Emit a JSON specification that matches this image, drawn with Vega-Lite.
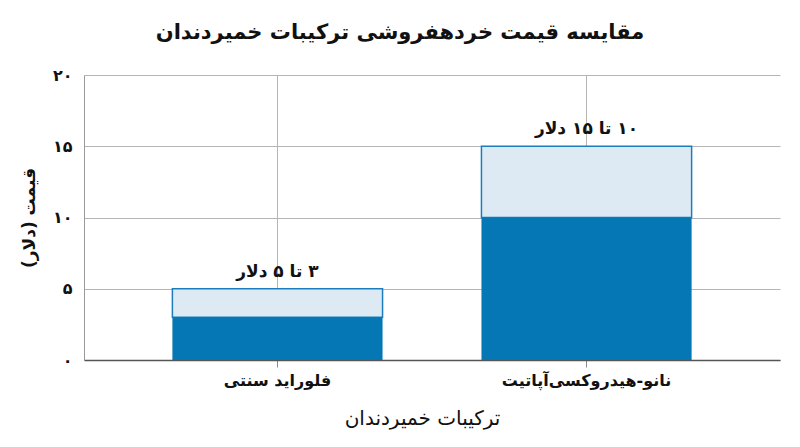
{
  "$schema": "https://vega.github.io/schema/vega-lite/v6.json",
  "width": 696,
  "height": 285,
  "autosize": {"type": "none"},
  "padding": {"left": 84, "top": 75, "right": 20, "bottom": 87},
  "background": "white",
  "title": {
    "text": "مقایسه قیمت خردهفروشی ترکیبات خمیردندان",
    "font": "DejaVu Sans",
    "fontSize": 21,
    "fontWeight": "bold",
    "color": "#111111",
    "anchor": "middle",
    "dx": -32,
    "offset": 24
  },
  "data": {
    "values": [
      {"ingredient": "فلوراید سنتی", "low": 3, "high": 5, "label": "\u200f۳ تا ۵ دلار"},
      {"ingredient": "نانو-هیدروکسی‌آپاتیت", "low": 10, "high": 15, "label": "\u200f۱۰ تا ۱۵ دلار"}
    ]
  },
  "encoding": {
    "x": {
      "field": "ingredient",
      "type": "nominal",
      "sort": null,
      "title": "ترکیبات خمیردندان",
      "scale": {"paddingInner": 0.32, "paddingOuter": 0.286},
      "axis": {
        "labelAngle": 0,
        "grid": true,
        "gridColor": "#b5b5b5",
        "domainColor": "#555555",
        "domainWidth": 1.5,
        "tickColor": "#888888",
        "tickSize": 7,
        "labelPadding": 5,
        "labelFont": "DejaVu Sans",
        "labelFontSize": 16,
        "labelFontWeight": "bold",
        "labelColor": "#111111",
        "titleFont": "DejaVu Sans",
        "titleFontSize": 20,
        "titleFontWeight": "normal",
        "titleColor": "#111111",
        "titleX": 338,
        "titleY": 58,
        "titleBaseline": "middle"
      }
    }
  },
  "layer": [
    {
      "mark": {"type": "bar", "color": "#ddeaf4", "stroke": "#1b7dbd", "strokeWidth": 1.5},
      "encoding": {
        "y": {
          "field": "low",
          "type": "quantitative",
          "title": "\u200fقیمت (دلار)",
          "scale": {"domain": [0, 20]},
          "axis": {
            "values": [0, 5, 10, 15, 20],
            "labelExpr": "datum.value == 0 ? '۰' : datum.value == 5 ? '۵' : datum.value == 10 ? '۱۰' : datum.value == 15 ? '۱۵' : '۲۰'",
            "ticks": false,
            "labelPadding": 12,
            "gridColor": "#b5b5b5",
            "domainColor": "#999999",
            "labelFont": "DejaVu Sans",
            "labelFontSize": 16,
            "labelFontWeight": "bold",
            "labelColor": "#111111",
            "titleFont": "DejaVu Sans",
            "titleFontSize": 17,
            "titleFontWeight": "bold",
            "titleColor": "#111111",
            "titlePadding": 14
          }
        },
        "y2": {"field": "high"}
      }
    },
    {
      "mark": {"type": "bar", "color": "#0677b5"},
      "encoding": {
        "y": {"field": "low", "type": "quantitative"}
      }
    },
    {
      "mark": {
        "type": "text",
        "baseline": "bottom",
        "dy": -8,
        "font": "DejaVu Sans",
        "fontSize": 17,
        "fontWeight": "bold",
        "color": "#111111"
      },
      "encoding": {
        "y": {"field": "high", "type": "quantitative"},
        "text": {"field": "label"}
      }
    }
  ],
  "config": {
    "view": {"stroke": null}
  }
}
